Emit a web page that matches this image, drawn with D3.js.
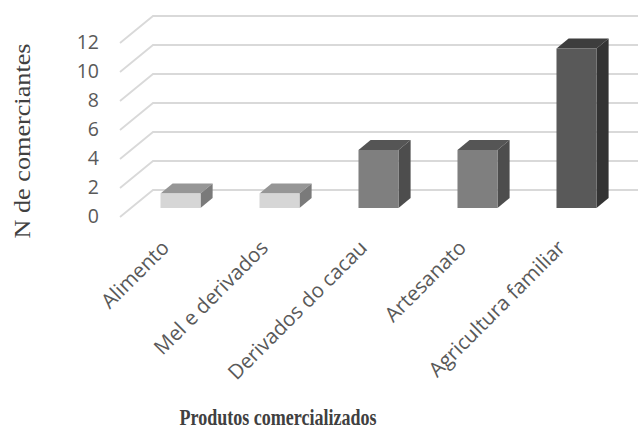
<!DOCTYPE html>
<html>
<head>
<meta charset="utf-8">
<script src="https://cdn.jsdelivr.net/npm/d3@7"></script>
<style>
  body { margin: 0; background: #fff; }
  svg { display: block; }
</style>
</head>
<body>
<script>
const categories = ['Alimento', 'Mel e derivados', 'Derivados do cacau', 'Artesanato', 'Agricultura familiar']
const values = [1, 1, 4, 4, 11]
const yTicks = [0, 2, 4, 6, 8, 10, 12]
const frontColors = ['#d6d6d6', '#d6d6d6', '#7f7f7f', '#7f7f7f', '#595959']
const topColors = ['#969696', '#969696', '#555555', '#555555', '#3d3d3d']
const sideColors = ['#7a7a7a', '#7a7a7a', '#4d4d4d', '#4d4d4d', '#333333']

const width = 638, height = 430
// oblique projection of the depth axis
const depthX = 33, depthY = -27
const barZ0 = 0.333, barZ1 = 0.7

const svg = d3.select('body')
    .append('svg')
    .attr('width', width)
    .attr('height', height)

const x = d3.scaleBand()
    .domain(categories)
    .range([120, 615])
    .paddingInner(59 / 99)
    .paddingOuter(59 / 198)

const y = d3.scaleLinear()
    .domain([0, 12])
    .range([217, 43])

// project (px, py) in the front plane to depth z (0..1)
const proj = (px, py, z) => [px + z * depthX, py + z * depthY]

// gridlines: diagonal on the floor side, then back wall
const grid = svg.append('g')
grid.selectAll('path')
    .data(yTicks)
    .enter().append('path')
    .attr('d', d => {
        const a = proj(120, y(d), 0)
        const b = proj(120, y(d), 1)
        const c = proj(615, y(d), 1)
        return `M${a}L${b}L${c}`
    })
    .attr('fill', 'none')
    .attr('stroke', '#d9d9d9')
    .attr('stroke-width', 1.8)

// tick labels
svg.append('g')
    .selectAll('text')
    .data(yTicks)
    .enter().append('text')
    .attr('x', 99)
    .attr('y', d => y(d) - 1)
    .attr('dy', '0.35em')
    .attr('text-anchor', 'end')
    .style('font-family', "'Open Sans', sans-serif")
    .attr('font-size', 19.5)
    .attr('fill', '#595959')
    .text(d => d)

// 3d bars
const bars = svg.append('g')
    .selectAll('g')
    .data(categories.map((c, i) => ({ c, v: values[i], i })))
    .enter().append('g')

const face = pts => 'M' + pts.map(p => p.join(',')).join('L') + 'Z'

bars.append('path')
    .attr('d', d => {
        const x0 = x(d.c), x1 = x0 + x.bandwidth()
        return face([
            proj(x0, y(d.v), barZ0), proj(x0, y(d.v), barZ1),
            proj(x1, y(d.v), barZ1), proj(x1, y(d.v), barZ0)])
    })
    .attr('fill', d => topColors[d.i])

bars.append('path')
    .attr('d', d => {
        const x1 = x(d.c) + x.bandwidth()
        return face([
            proj(x1, y(0), barZ0), proj(x1, y(d.v), barZ0),
            proj(x1, y(d.v), barZ1), proj(x1, y(0), barZ1)])
    })
    .attr('fill', d => sideColors[d.i])

bars.append('path')
    .attr('d', d => {
        const x0 = x(d.c), x1 = x0 + x.bandwidth()
        return face([
            proj(x0, y(0), barZ0), proj(x0, y(d.v), barZ0),
            proj(x1, y(d.v), barZ0), proj(x1, y(0), barZ0)])
    })
    .attr('fill', d => frontColors[d.i])

// category labels
svg.append('g')
    .selectAll('text')
    .data(categories)
    .enter().append('text')
    .attr('transform', d => `translate(${x(d) + x.bandwidth() / 2 + 1},249) rotate(-45)`)
    .attr('text-anchor', 'end')
    .style('font-family', "'Open Sans', sans-serif")
    .attr('font-size', 20.5)
    .attr('fill', '#595959')
    .text(d => d)

// axis titles
svg.append('text')
    .attr('transform', 'translate(30,141) rotate(-90)')
    .attr('text-anchor', 'middle')
    .style('font-family', "'Liberation Serif', serif")
    .attr('font-size', 24)
    .attr('fill', '#404040')
    .attr('textLength', 195)
    .attr('lengthAdjust', 'spacingAndGlyphs')
    .text('N de comerciantes')

svg.append('text')
    .attr('x', 278)
    .attr('y', 425)
    .attr('text-anchor', 'middle')
    .style('font-family', "'Liberation Serif', serif")
    .attr('font-weight', 'bold')
    .attr('font-size', 24)
    .attr('fill', '#404040')
    .attr('textLength', 197)
    .attr('lengthAdjust', 'spacingAndGlyphs')
    .text('Produtos comercializados')
</script>
</body>
</html>
